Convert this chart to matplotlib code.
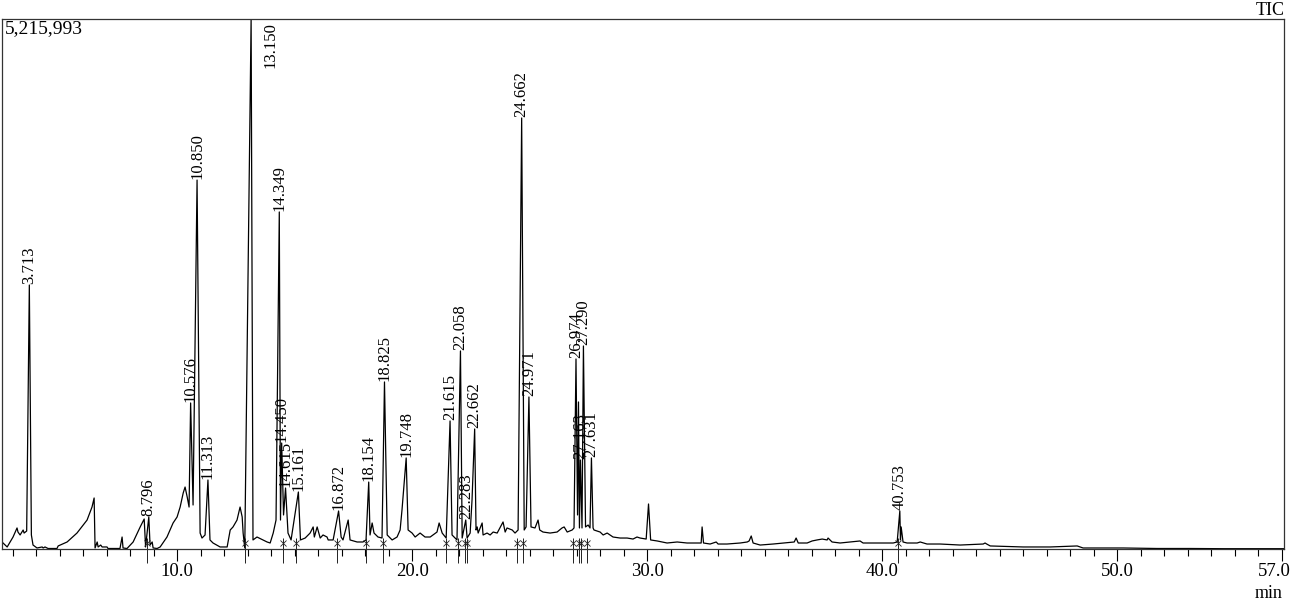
import numpy as np
import matplotlib.pyplot as plt
from matplotlib import transforms

plt.rcParams["font.family"] = ["Liberation Serif", "DejaVu Serif"]

# TIC chromatogram: retention time [min] / counts
# baseline and unlabelled points
base_t = [2.55, 2.77, 3.02, 3.19, 3.23, 3.32, 3.45, 3.49, 3.60,
          3.80, 3.85, 3.87, 4.04, 4.26, 4.30, 4.38, 4.51, 4.89, 4.94, 5.32, 5.74, 6.17, 6.38, 6.47,
          6.51, 6.60, 6.64, 6.75, 6.81, 7.02, 7.06, 7.57, 7.66, 7.70, 7.87, 8.13, 8.43, 8.60, 8.66,
          8.85, 8.94, 8.98, 9.15, 9.28, 9.57, 9.83, 10.00, 10.13, 10.26, 10.34, 10.43, 10.51,
          10.68, 10.98, 11.06, 11.19, 11.40, 11.53, 11.83, 12.13, 12.26, 12.38, 12.55, 12.68,
          12.77, 12.81, 12.88, 13.23, 13.40, 13.83, 13.96, 14.09, 14.21, 14.40, 14.53, 14.72,
          14.85, 15.25, 15.45, 15.66, 15.79, 15.84, 15.96, 16.09, 16.21, 16.38, 16.43, 16.64,
          16.98, 17.06, 17.28, 17.36, 17.66, 17.91, 18.04, 18.21, 18.30, 18.38, 18.55, 18.72,
          18.94, 19.15, 19.36, 19.49, 19.57, 19.83, 20.00, 20.13, 20.34, 20.55, 20.77, 21.06,
          21.15, 21.28, 21.45, 21.70, 21.91, 22.13, 22.34, 22.47, 22.55, 22.72, 22.77, 22.81,
          22.98, 23.02, 23.19, 23.32, 23.45, 23.62, 23.87, 23.96, 24.04, 24.26, 24.38, 24.51,
          24.77, 24.85, 25.06, 25.23, 25.36, 25.43, 25.57, 25.87, 26.17, 26.38, 26.47, 26.60,
          26.81, 26.89, 27.04, 27.08, 27.12, 27.23, 27.38, 27.49, 27.57, 27.70, 27.74, 28.00,
          28.13, 28.30, 28.55, 28.85, 29.15, 29.40, 29.57, 29.70, 29.96, 30.06, 30.15, 30.43,
          30.85, 31.28, 31.70, 32.17, 32.30, 32.34, 32.40, 32.68, 32.94, 33.02, 33.40, 33.96,
          34.26, 34.34, 34.43, 34.51, 34.81, 35.36, 35.79, 36.26, 36.34, 36.43, 36.81, 37.02,
          37.23, 37.45, 37.66, 37.70, 37.87, 38.21, 38.64, 39.06, 39.19, 39.62, 40.04, 40.47,
          40.64, 40.78, 40.81, 40.89, 41.06, 41.49, 41.62, 41.91, 42.47, 43.32, 44.30, 44.38,
          44.45, 44.60, 46.00, 47.15, 48.30, 48.55, 50.26, 51.70, 53.11, 54.51, 57.10]
base_c = [69000, 20000, 118000, 207000, 167000, 138000, 187000, 157000, 177000,
          138000, 69000, 39000, 10000, 20000, 10000, 20000, 5000, 5000, 30000, 69000, 157000, 285000, 413000, 502000,
          10000, 69000, 20000, 39000, 20000, 20000, 5000, 5000, 118000, 10000, 5000, 69000, 217000, 295000, 20000,
          39000, 69000, 10000, 5000, 20000, 118000, 256000, 315000, 413000, 551000, 610000, 512000, 413000,
          433000, 157000, 108000, 138000, 89000, 59000, 20000, 20000, 187000, 217000, 285000, 413000,
          315000, 157000, 10000, 89000, 118000, 69000, 59000, 157000, 285000, 285000, 335000, 157000,
          89000, 89000, 108000, 157000, 217000, 118000, 217000, 108000, 138000, 118000, 89000, 89000,
          118000, 89000, 285000, 89000, 69000, 69000, 89000, 138000, 256000, 157000, 118000, 108000,
          138000, 89000, 118000, 187000, 384000, 187000, 157000, 118000, 157000, 118000, 118000, 167000,
          256000, 157000, 108000, 138000, 89000, 108000, 108000, 157000, 482000, 187000, 217000, 157000,
          256000, 138000, 157000, 138000, 167000, 157000, 266000, 167000, 207000, 187000, 157000, 187000,
          187000, 217000, 217000, 207000, 285000, 187000, 167000, 157000, 167000, 207000, 217000, 167000,
          187000, 207000, 335000, 1447000, 207000, 207000, 217000, 236000, 207000, 207000, 187000, 167000,
          138000, 157000, 118000, 108000, 108000, 98000, 118000, 108000, 98000, 443000, 89000, 79000,
          59000, 69000, 59000, 59000, 59000, 217000, 59000, 49000, 69000, 49000, 49000, 59000,
          69000, 79000, 128000, 59000, 39000, 49000, 59000, 69000, 108000, 59000, 59000, 79000,
          89000, 98000, 89000, 108000, 69000, 59000, 69000, 79000, 59000, 59000, 59000, 59000,
          69000, 89000, 217000, 69000, 59000, 59000, 69000, 49000, 49000, 39000, 49000, 59000,
          49000, 30000, 20000, 20000, 30000, 10000, 10000, 5000, 5000, 3000, 3000]

# labelled peaks
peak_labels = ["3.713", "8.796", "10.576", "10.850", "11.313", "13.150", "14.349", "14.450",
               "14.615", "15.161", "16.872", "18.154", "18.825", "19.748", "21.615", "22.058",
               "22.283", "22.662", "24.662", "24.971", "26.974", "27.163", "27.290", "27.631",
               "40.753"]
peak_t = [3.713, 8.796, 10.576, 10.850, 11.313, 13.150, 14.349, 14.450, 14.615, 15.161,
          16.872, 18.154, 18.825, 19.748, 21.615, 22.058, 22.283, 22.662, 24.662, 24.971,
          26.974, 27.163, 27.290, 27.631, 40.753]
peak_c = [2598000, 315000, 1437000, 3631000, 679000, 5215993, 3317000, 1043000, 600000, 561000,
          374000, 659000, 1644000, 896000, 1260000, 1949000, 285000, 1181000, 4242000, 1496000,
          1870000, 876000, 1998000, 896000, 374000]

# integration marks under the baseline
mark_t = [8.72, 12.89, 14.51, 15.06, 16.81, 18.04, 18.77, 21.45, 21.96, 22.26, 22.34,
          24.47, 24.72, 26.85, 27.11, 27.19, 27.45, 40.68]

y_max = 5215993

t_all = np.array(base_t + peak_t)
c_all = np.array(base_c + peak_c)
order = np.argsort(t_all)

fig = plt.figure(figsize=(12.99, 6.01), dpi=100)
ax = fig.add_axes([2 / 1299, 52 / 601, 1282 / 1299, 530 / 601])

ax.plot(t_all[order], c_all[order], color="black", lw=0.9)

for lab, t, c in zip(peak_labels, peak_t, peak_c):
    if c >= y_max:
        # peak runs off the top: label goes beside it
        ax.annotate(lab, xy=(t, y_max), xytext=(14, -2), textcoords="offset points",
                    rotation=90, ha="center", va="top", fontsize=12)
    else:
        ax.annotate(lab, xy=(t, c), xytext=(0, 1), textcoords="offset points",
                    rotation=90, ha="center", va="bottom", fontsize=12)

trans = transforms.blended_transform_factory(ax.transData, ax.transAxes)
ax.vlines(mark_t, -0.027, 0.02, transform=trans, color="#222222", lw=0.7, clip_on=False)
ax.plot(mark_t, [0.012] * len(mark_t), transform=trans, ls="none", marker="x",
        ms=4, mew=0.6, color="#222222", clip_on=False)

ax.set_xlim(2.55, 57.1)
ax.set_ylim(0, y_max)
ax.set_yticks([])
ax.set_xticks([10, 20, 30, 40, 50, 57], labels=["10.0", "20.0", "30.0", "40.0", "50.0", "57.0"])
ax.set_xticks(np.arange(3, 57), minor=True)
ax.tick_params(axis="x", which="major", direction="out", length=8.4, width=0.8,
               labelsize=13.5, pad=1.5)
ax.tick_params(axis="x", which="minor", direction="out", length=4.8, width=0.8)
last = ax.get_xticklabels()[-1]
last.set_transform(last.get_transform() + transforms.ScaledTranslation(-7 / 100, 0, fig.dpi_scale_trans))

for sp in ax.spines.values():
    sp.set_color("#333333")
    sp.set_linewidth(0.9)

ax.text(0.0025, 0.998, "5,215,993", transform=ax.transAxes, ha="left", va="top", fontsize=14)
fig.text(1285 / 1299, 1 - 15 / 601, "TIC", ha="right", va="baseline", fontsize=13)
fig.text(1283 / 1299, 3 / 601, "min", ha="right", va="baseline", fontsize=13)

fig.savefig("out.png", dpi=100)
